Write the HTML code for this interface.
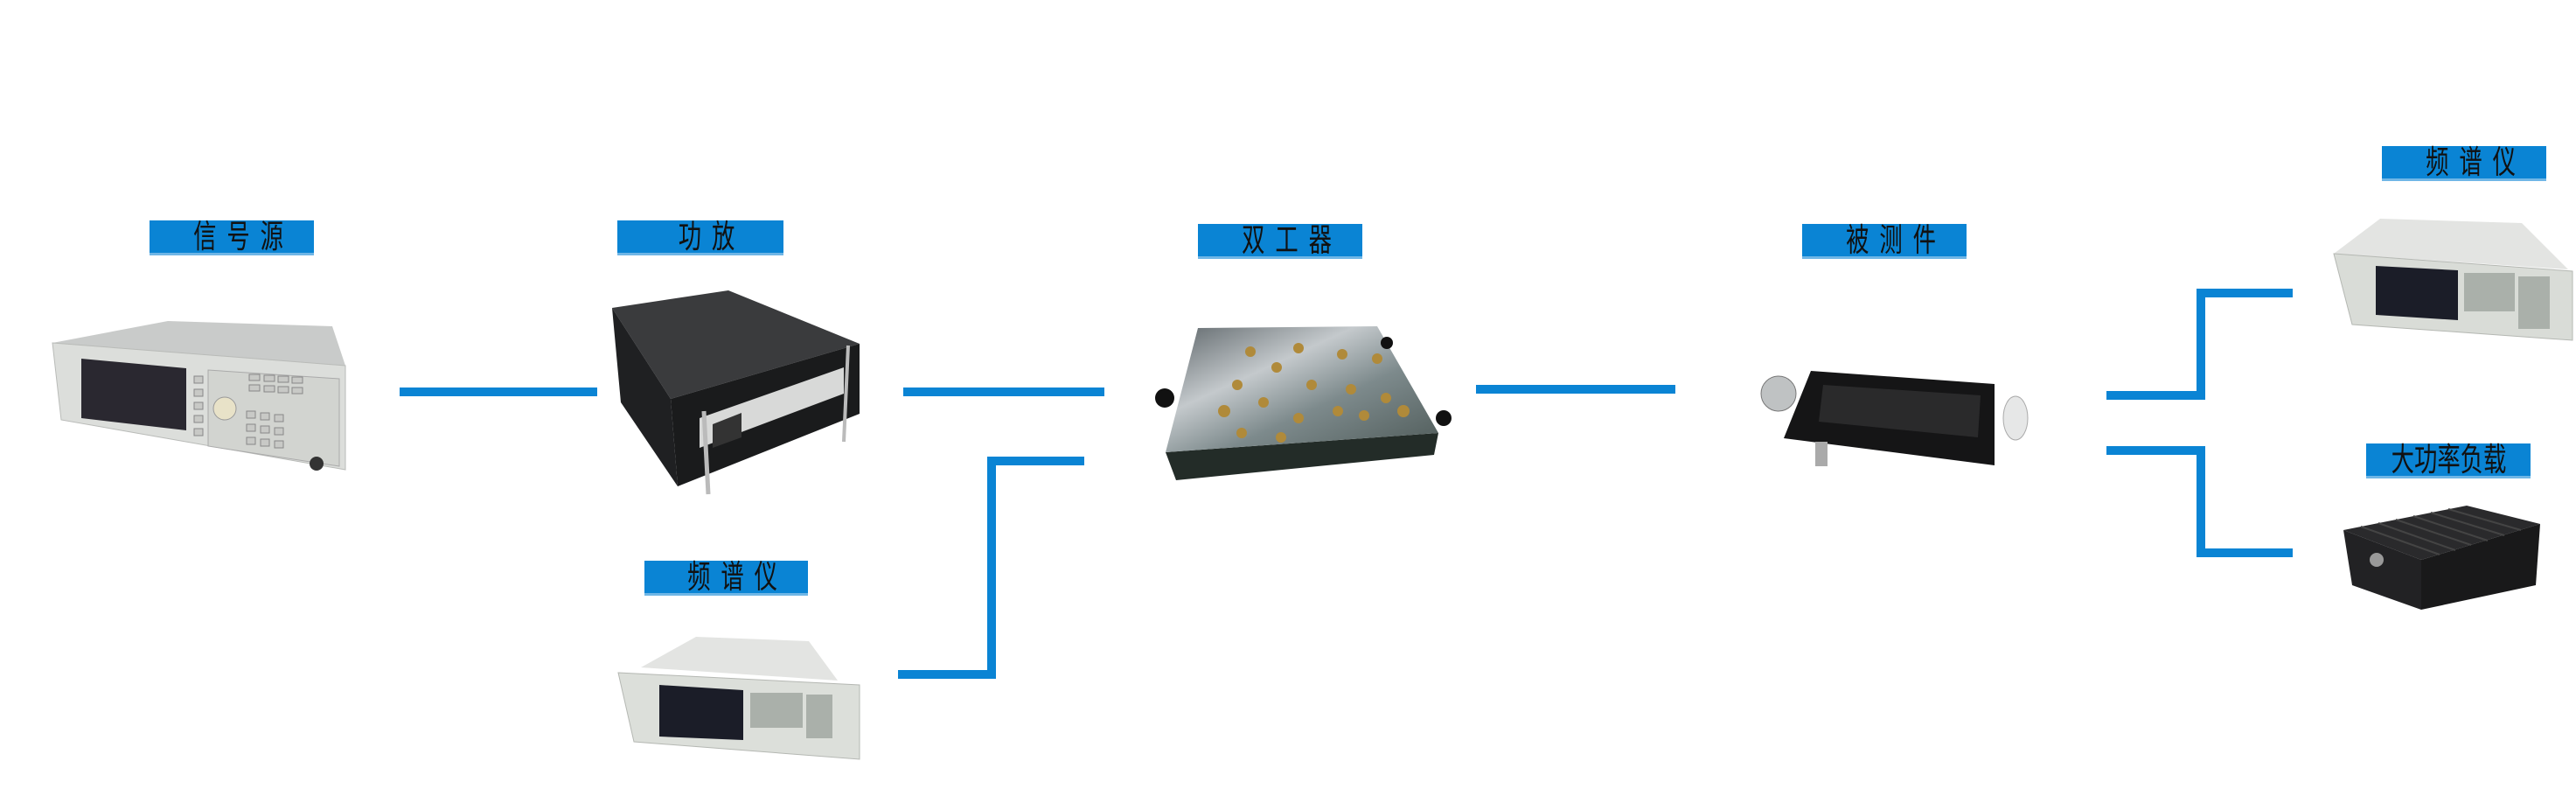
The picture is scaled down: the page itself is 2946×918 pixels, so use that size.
<!DOCTYPE html>
<html><head><meta charset="utf-8"><style>
html,body{margin:0;padding:0;background:#fff}
body{width:2946px;height:918px;position:relative;overflow:hidden}
.l{position:absolute;background:#0a84d4;border-bottom:3px solid #6fb6e6;color:#111;font-family:"Liberation Sans","Noto Sans CJK SC",sans-serif;font-size:31px;text-align:center;line-height:37px;height:37px;letter-spacing:14px;text-indent:14px}
.l span{display:inline-block;transform:scale(0.85,1.2)}
svg{position:absolute;left:0;top:0}
</style></head><body>
<svg width="2946" height="918" viewBox="0 0 2946 918">
<defs>
<linearGradient id="alu" x1="0" y1="0" x2="1" y2="1"><stop offset="0" stop-color="#5c6468"/><stop offset=".35" stop-color="#c4c9cc"/><stop offset=".6" stop-color="#7d8a8c"/><stop offset="1" stop-color="#4e5a58"/></linearGradient>
</defs>
<g fill="#0a84d4">
<rect x="457" y="443" width="226" height="10"/>
<rect x="1033" y="443" width="230" height="10"/>
<rect x="1129" y="522" width="111" height="10"/>
<rect x="1129" y="522" width="10" height="254"/>
<rect x="1027" y="766" width="112" height="10"/>
<rect x="1688" y="440" width="228" height="10"/>
<rect x="2512" y="330" width="110" height="10"/>
<rect x="2512" y="330" width="10" height="127"/>
<rect x="2409" y="447" width="113" height="10"/>
<rect x="2409" y="510" width="113" height="10"/>
<rect x="2512" y="510" width="10" height="127"/>
<rect x="2512" y="627" width="110" height="10"/>
</g>
<!-- signal source -->
<polygon points="60,392 192,367 380,373 395,418" fill="#c9cbca"/>
<polygon points="60,392 395,418 395,537 70,480" fill="#dcdedb" stroke="#b9bbb8"/>
<polygon points="93,410 213,421 213,492 93,478" fill="#2a2830"/>
<polygon points="238,423 388,433 388,533 238,510" fill="#d2d4d0" stroke="#aaa"/>
<circle cx="257" cy="467" r="13" fill="#e8e2c8" stroke="#999"/>
<g fill="#c8c9c6" stroke="#888" stroke-width="1">
<rect x="285" y="428" width="12" height="7"/><rect x="302" y="429" width="12" height="7"/><rect x="318" y="430" width="12" height="7"/><rect x="334" y="431" width="12" height="7"/>
<rect x="285" y="440" width="12" height="7"/><rect x="302" y="441" width="12" height="7"/><rect x="318" y="442" width="12" height="7"/><rect x="334" y="443" width="12" height="7"/>
<rect x="282" y="470" width="10" height="8"/><rect x="298" y="472" width="10" height="8"/><rect x="314" y="474" width="10" height="8"/>
<rect x="282" y="485" width="10" height="8"/><rect x="298" y="487" width="10" height="8"/><rect x="314" y="489" width="10" height="8"/>
<rect x="282" y="500" width="10" height="8"/><rect x="298" y="502" width="10" height="8"/><rect x="314" y="504" width="10" height="8"/>
<rect x="222" y="430" width="10" height="8"/><rect x="222" y="445" width="10" height="8"/><rect x="222" y="460" width="10" height="8"/><rect x="222" y="475" width="10" height="8"/><rect x="222" y="490" width="10" height="8"/>
</g>
<circle cx="362" cy="530" r="8" fill="#333"/>
<!-- power amp -->
<polygon points="700,352 833,332 983,393 767,456" fill="#3a3b3d"/>
<polygon points="700,352 767,456 775,556 710,460" fill="#1f2022"/>
<polygon points="767,456 983,393 983,473 775,556" fill="#1a1b1c"/>
<polygon points="800,478 965,420 965,450 800,512" fill="#d8d9d8"/>
<polygon points="815,485 848,472 848,500 815,512" fill="#333"/>
<line x1="805" y1="470" x2="810" y2="565" stroke="#bbb" stroke-width="5"/>
<line x1="970" y1="395" x2="965" y2="505" stroke="#bbb" stroke-width="4"/>
<!-- lower spectrum -->
<polygon points="733,763 796,728 925,733 958,778" fill="#e3e4e2"/>
<polygon points="707,769 983,783 983,868 725,848" fill="#dcdfda" stroke="#b5b8b3"/>
<polygon points="754,783 850,789 850,846 754,842" fill="#1b1d28"/>
<g fill="#aab0aa"><rect x="858" y="792" width="60" height="40"/><rect x="922" y="794" width="30" height="50"/></g>
<!-- duplexer -->
<polygon points="1333,517 1645,495 1640,520 1345,549" fill="#232c28"/>
<polygon points="1370,375 1575,373 1645,495 1333,517" fill="url(#alu)"/>
<g fill="#b08a3a">
<circle cx="1400" cy="470" r="7"/><circle cx="1415" cy="440" r="6"/><circle cx="1430" cy="402" r="6"/><circle cx="1460" cy="420" r="6"/><circle cx="1485" cy="398" r="6"/><circle cx="1500" cy="440" r="6"/><circle cx="1535" cy="405" r="6"/><circle cx="1545" cy="445" r="6"/><circle cx="1575" cy="410" r="6"/><circle cx="1585" cy="455" r="6"/><circle cx="1605" cy="470" r="7"/><circle cx="1445" cy="460" r="6"/><circle cx="1485" cy="478" r="6"/><circle cx="1530" cy="470" r="6"/><circle cx="1560" cy="475" r="6"/><circle cx="1420" cy="495" r="6"/><circle cx="1465" cy="500" r="6"/>
</g>
<circle cx="1332" cy="455" r="11" fill="#111"/><circle cx="1651" cy="478" r="9" fill="#111"/><circle cx="1586" cy="392" r="7" fill="#111"/>
<!-- DUT -->
<polygon points="2071,424 2281,439 2281,532 2040,501" fill="#151516"/>
<polygon points="2085,440 2265,452 2262,500 2080,482" fill="#2a2a2b"/>
<circle cx="2034" cy="450" r="20" fill="#bfc2c3" stroke="#777"/>
<ellipse cx="2305" cy="478" rx="14" ry="25" fill="#e6e7e7" stroke="#aaa"/>
<rect x="2076" y="505" width="14" height="28" fill="#aaa"/>
<!-- top right spectrum -->
<polygon points="2722,250 2884,255 2937,308 2669,290" fill="#e3e4e2"/>
<polygon points="2669,290 2942,310 2942,389 2690,371" fill="#d9dcd7" stroke="#b5b8b3"/>
<polygon points="2717,304 2811,309 2811,366 2717,360" fill="#1b1d28"/>
<g fill="#aab0aa"><rect x="2818" y="312" width="58" height="44"/><rect x="2880" y="316" width="36" height="60"/></g>
<!-- load -->
<polygon points="2680,606 2821,578 2905,599 2769,640" fill="#2a2a2c"/>
<polygon points="2769,640 2905,599 2900,669 2769,697" fill="#19191a"/>
<polygon points="2680,606 2769,640 2769,697 2690,669" fill="#222224"/>
<g stroke="#444" stroke-width="2">
<line x1="2700" y1="602" x2="2790" y2="634"/><line x1="2720" y1="598" x2="2808" y2="629"/><line x1="2740" y1="594" x2="2826" y2="623"/><line x1="2760" y1="590" x2="2845" y2="618"/><line x1="2780" y1="586" x2="2864" y2="612"/><line x1="2800" y1="582" x2="2883" y2="606"/>
</g>
<circle cx="2718" cy="640" r="8" fill="#999"/>
</svg>
<div class="l" style="left:171px;top:252px;width:188px"><span>信号源</span></div>
<div class="l" style="left:706px;top:252px;width:190px"><span>功放</span></div>
<div class="l" style="left:737px;top:641px;width:187px"><span>频谱仪</span></div>
<div class="l" style="left:1370px;top:256px;width:188px"><span>双工器</span></div>
<div class="l" style="left:2061px;top:256px;width:188px"><span>被测件</span></div>
<div class="l" style="left:2724px;top:167px;width:188px"><span>频谱仪</span></div>
<div class="l" style="left:2706px;top:507px;width:188px;letter-spacing:0;text-indent:0"><span>大功率负载</span></div>
</body></html>
